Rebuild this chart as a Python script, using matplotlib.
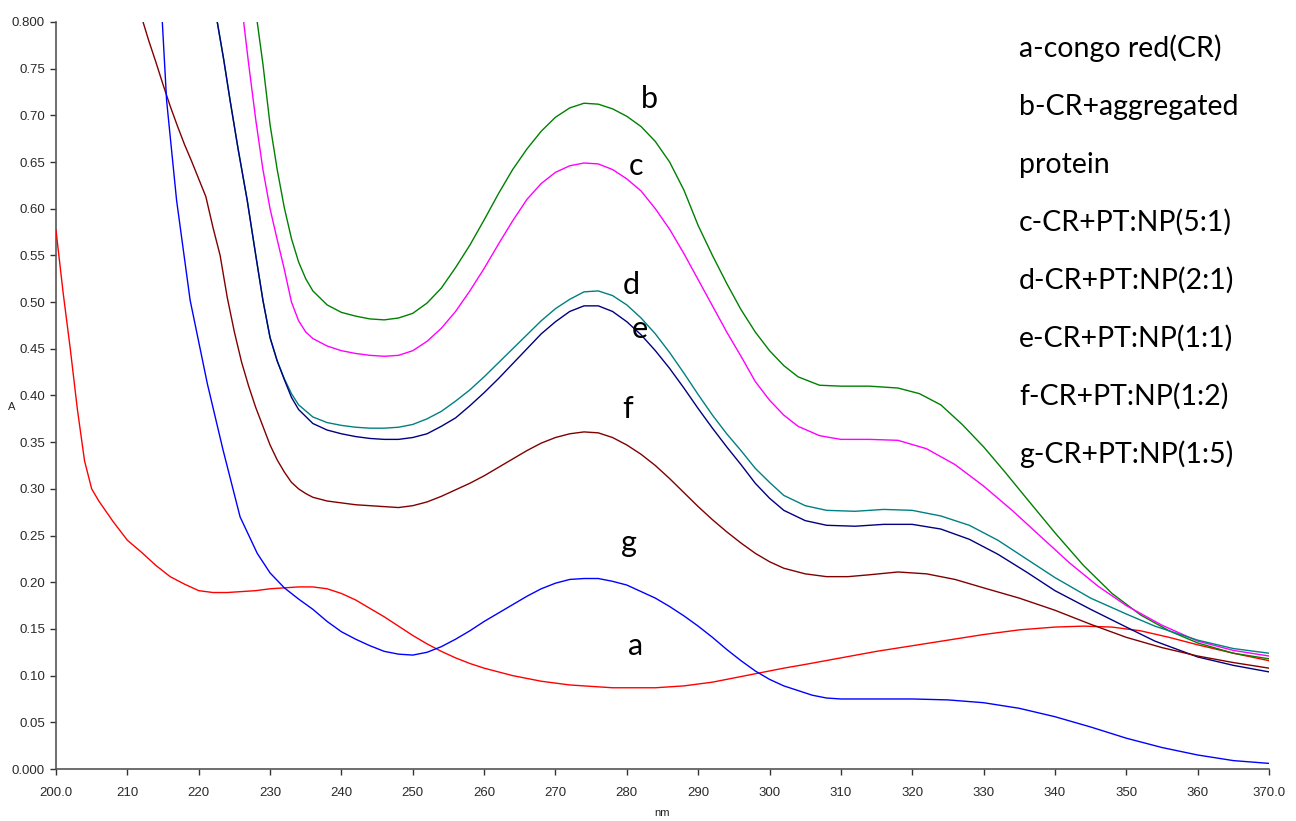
import matplotlib
matplotlib.use("Agg")
import matplotlib.pyplot as plt
from matplotlib import font_manager

# ---- spectra (wavelength in nm, absorbance A) ----
wl_a = [200, 201, 202, 203, 204, 205, 206, 208, 210, 212, 214, 216, 218, 220, 222, 224, 226, 228,
        230, 232, 234, 236, 238, 240, 242, 244, 246, 248, 250, 252, 254, 256, 258, 260, 262, 264,
        266, 268, 270, 272, 274, 276, 278, 280, 282, 284, 286, 288, 290, 292, 294, 296, 298, 300,
        302, 305, 310, 315, 320, 325, 330, 335, 340, 344, 348, 352, 356, 360, 365, 370]
abs_a = [0.577, 0.51, 0.45, 0.385, 0.33, 0.30, 0.287, 0.265, 0.245, 0.232, 0.218, 0.206, 0.198,
         0.191, 0.189, 0.189, 0.190, 0.191, 0.193, 0.194, 0.195, 0.195, 0.193, 0.188, 0.181, 0.172,
         0.163, 0.153, 0.143, 0.134, 0.126, 0.119, 0.113, 0.108, 0.104, 0.100, 0.097, 0.094, 0.092,
         0.090, 0.089, 0.088, 0.087, 0.087, 0.087, 0.087, 0.088, 0.089, 0.091, 0.093, 0.096, 0.099,
         0.102, 0.105, 0.108, 0.112, 0.119, 0.126, 0.132, 0.138, 0.144, 0.149, 0.152, 0.153, 0.152,
         0.148, 0.141, 0.133, 0.124, 0.116]

wl_b = [228.2, 229, 230, 231, 232, 233, 234, 235, 236, 238, 240, 242, 244, 246, 248, 250, 252, 254,
        256, 258, 260, 262, 264, 266, 268, 270, 272, 274, 276, 278, 280, 282, 284, 286, 288, 290,
        292, 294, 296, 298, 300, 302, 304, 307, 310, 314, 318, 321, 324, 327, 330, 333, 336, 340,
        344, 348, 352, 356, 360, 365, 370]
abs_b = [0.80, 0.755, 0.69, 0.642, 0.601, 0.568, 0.543, 0.525, 0.512, 0.497, 0.489, 0.485, 0.482,
         0.481, 0.483, 0.488, 0.499, 0.515, 0.537, 0.561, 0.588, 0.616, 0.642, 0.664, 0.683, 0.698,
         0.708, 0.713, 0.712, 0.707, 0.699, 0.688, 0.672, 0.650, 0.620, 0.582, 0.550, 0.520, 0.492,
         0.468, 0.448, 0.432, 0.420, 0.411, 0.410, 0.410, 0.408, 0.402, 0.390, 0.369, 0.345, 0.318,
         0.290, 0.253, 0.218, 0.188, 0.165, 0.148, 0.135, 0.124, 0.118]

wl_c = [226.3, 227, 228, 229, 230, 231, 232, 233, 234, 235, 236, 238, 240, 242, 244, 246, 248, 250,
        252, 254, 256, 258, 260, 262, 264, 266, 268, 270, 272, 274, 276, 278, 280, 282, 284, 286,
        288, 290, 292, 294, 296, 298, 300, 302, 304, 307, 310, 314, 318, 322, 326, 330, 334, 338,
        342, 346, 350, 355, 360, 365, 370]
abs_c = [0.80, 0.755, 0.695, 0.642, 0.60, 0.567, 0.535, 0.50, 0.48, 0.468, 0.461, 0.453, 0.448,
         0.445, 0.443, 0.442, 0.443, 0.448, 0.458, 0.472, 0.49, 0.512, 0.536, 0.562, 0.587, 0.61,
         0.627, 0.639, 0.646, 0.649, 0.648, 0.642, 0.632, 0.619, 0.60, 0.578, 0.552, 0.524, 0.496,
         0.468, 0.442, 0.415, 0.395, 0.379, 0.367, 0.357, 0.353, 0.353, 0.352, 0.343, 0.326, 0.303,
         0.277, 0.249, 0.221, 0.196, 0.175, 0.154, 0.137, 0.127, 0.121]

wl_d = [222.6, 223.5, 224.4, 225.5, 226.8, 228, 229, 230, 231, 232, 233, 234, 236, 238, 240, 242,
        244, 246, 248, 250, 252, 254, 256, 258, 260, 262, 264, 266, 268, 270, 272, 274, 276, 278,
        280, 282, 284, 286, 288, 290, 292, 294, 296, 298, 300, 302, 305, 308, 312, 316, 320, 324,
        328, 332, 336, 340, 345, 350, 354, 360, 365, 370]
abs_d = [0.80, 0.76, 0.716, 0.665, 0.609, 0.55, 0.502, 0.462, 0.437, 0.418, 0.402, 0.39, 0.377,
         0.371, 0.368, 0.366, 0.365, 0.365, 0.366, 0.369, 0.375, 0.383, 0.394, 0.406, 0.42, 0.435,
         0.45, 0.465, 0.48, 0.493, 0.503, 0.511, 0.512, 0.507, 0.497, 0.483, 0.466, 0.446, 0.424,
         0.401, 0.379, 0.359, 0.341, 0.322, 0.307, 0.293, 0.282, 0.277, 0.276, 0.278, 0.277, 0.271,
         0.261, 0.245, 0.225, 0.205, 0.183, 0.166, 0.153, 0.138, 0.129, 0.124]

wl_e = [222.6, 223.5, 224.4, 225.5, 226.8, 228, 229, 230, 231, 232, 233, 234, 236, 238, 240, 242,
        244, 246, 248, 250, 252, 254, 256, 258, 260, 262, 264, 266, 268, 270, 272, 274, 276, 278,
        280, 282, 284, 286, 288, 290, 292, 294, 296, 298, 300, 302, 305, 308, 312, 316, 320, 324,
        328, 332, 336, 340, 345, 350, 354, 360, 365, 370]
abs_e = [0.80, 0.76, 0.716, 0.665, 0.609, 0.55, 0.502, 0.462, 0.437, 0.417, 0.398, 0.385, 0.37,
         0.363, 0.359, 0.356, 0.354, 0.353, 0.353, 0.355, 0.359, 0.367, 0.376, 0.389, 0.403, 0.418,
         0.434, 0.45, 0.466, 0.479, 0.49, 0.496, 0.496, 0.49, 0.479, 0.465, 0.448, 0.429, 0.408,
         0.386, 0.365, 0.345, 0.326, 0.306, 0.29, 0.277, 0.266, 0.261, 0.26, 0.262, 0.262, 0.257,
         0.246, 0.23, 0.211, 0.191, 0.171, 0.152, 0.137, 0.12, 0.111, 0.104]

wl_f = [212.2, 213, 214, 215, 216, 217, 218, 219, 220, 221, 222, 223, 224, 225, 226, 227, 228, 229,
        230, 231, 232, 233, 234, 235, 236, 238, 240, 242, 244, 246, 248, 250, 252, 254, 256, 258,
        260, 262, 264, 266, 268, 270, 272, 274, 276, 278, 280, 282, 284, 286, 288, 290, 292, 294,
        296, 298, 300, 302, 305, 308, 311, 314, 318, 322, 326, 330, 335, 340, 345, 350, 355, 360,
        365, 370]
abs_f = [0.80, 0.78, 0.757, 0.733, 0.71, 0.689, 0.669, 0.651, 0.632, 0.613, 0.58, 0.55, 0.505,
         0.468, 0.436, 0.41, 0.387, 0.367, 0.347, 0.331, 0.318, 0.307, 0.30, 0.295, 0.291, 0.287,
         0.285, 0.283, 0.282, 0.281, 0.28, 0.282, 0.286, 0.292, 0.299, 0.306, 0.314, 0.323, 0.332,
         0.341, 0.349, 0.355, 0.359, 0.361, 0.36, 0.355, 0.347, 0.337, 0.325, 0.311, 0.296, 0.281,
         0.267, 0.254, 0.242, 0.231, 0.222, 0.215, 0.209, 0.206, 0.206, 0.208, 0.211, 0.209, 0.203,
         0.194, 0.183, 0.17, 0.155, 0.141, 0.13, 0.121, 0.114, 0.108]

wl_g = [214.9, 215.5, 216.9, 218.8, 221.2, 223.4, 225.8, 228.2, 230, 232, 234, 236, 238, 240, 242,
        244, 246, 248, 250, 252, 254, 256, 258, 260, 262, 264, 266, 268, 270, 272, 274, 276, 278,
        280, 282, 284, 286, 288, 290, 292, 294, 296, 298, 300, 302, 304, 306, 308, 310, 315, 320,
        325, 330, 335, 340, 345, 350, 355, 360, 365, 370]
abs_g = [0.80, 0.716, 0.609, 0.502, 0.413, 0.342, 0.27, 0.231, 0.21, 0.194, 0.182, 0.171, 0.158,
         0.147, 0.139, 0.132, 0.126, 0.123, 0.122, 0.125, 0.131, 0.139, 0.148, 0.158, 0.167, 0.176,
         0.185, 0.193, 0.199, 0.203, 0.204, 0.204, 0.201, 0.197, 0.19, 0.183, 0.174, 0.164, 0.153,
         0.141, 0.128, 0.116, 0.105, 0.096, 0.089, 0.084, 0.079, 0.076, 0.075, 0.075, 0.075, 0.074,
         0.071, 0.065, 0.056, 0.045, 0.033, 0.023, 0.015, 0.009, 0.006]

series_keys = ["a", "b", "c", "d", "e", "f", "g"]
series_colors = ["#ff0000", "#008000", "#ff00ff", "#008080", "#000080", "#800000", "#0000ff"]
legend_lines = ["a-congo red(CR)", "b-CR+aggregated", "protein", "c-CR+PT:NP(5:1)",
                "d-CR+PT:NP(2:1)", "e-CR+PT:NP(1:1)", "f-CR+PT:NP(1:2)", "g-CR+PT:NP(1:5)"]

x_ticks = [200, 210, 220, 230, 240, 250, 260, 270, 280, 290, 300, 310, 320, 330, 340, 350, 360, 370]
x_ticklabels = ["200.0"] + [str(v) for v in x_ticks[1:-1]] + ["370.0"]
y_ticks = [0.0, 0.05, 0.10, 0.15, 0.20, 0.25, 0.30, 0.35, 0.40, 0.45, 0.50, 0.55, 0.60, 0.65,
           0.70, 0.75, 0.80]
y_ticklabels = ["0.000", "0.05", "0.10", "0.15", "0.20", "0.25", "0.30", "0.35", "0.40", "0.45",
                "0.50", "0.55", "0.60", "0.65", "0.70", "0.75", "0.800"]

# curve labels placed next to the bands (data coordinates)
curve_label_pos = {"b": (281.9, 0.708), "c": (280.3, 0.636), "d": (279.4, 0.509),
                   "e": (280.7, 0.462), "f": (279.4, 0.376), "g": (279.2, 0.232), "a": (280.2, 0.122)}

available = {f.name for f in font_manager.fontManager.ttflist}
tick_font = "Liberation Sans Narrow" if "Liberation Sans Narrow" in available else "Liberation Sans"
text_font = "Lato"

W, H = 1296, 821
fig = plt.figure(figsize=(W / 100, H / 100), dpi=100)
ax = fig.add_axes([56 / W, 1 - 769 / H, (1269 - 56) / W, (769 - 22) / H])

wls = [wl_a, wl_b, wl_c, wl_d, wl_e, wl_f, wl_g]
absv = [abs_a, abs_b, abs_c, abs_d, abs_e, abs_f, abs_g]
for key, w, a, col in zip(series_keys, wls, absv, series_colors):
    ax.plot(w, a, color=col, lw=1.0, solid_joinstyle="round", zorder=3)

ax.set_xlim(200, 370)
ax.set_ylim(0, 0.8)
ax.set_xticks(x_ticks)
ax.set_xticklabels(x_ticklabels)
ax.set_yticks(y_ticks)
ax.set_yticklabels(y_ticklabels)
for sp in ["top", "right"]:
    ax.spines[sp].set_visible(False)
for sp in ["left", "bottom"]:
    ax.spines[sp].set_color("#555555")
    ax.spines[sp].set_linewidth(1.2)
ax.tick_params(axis="both", direction="out", length=4, width=1.0, color="#333333",
               labelsize=9.5, labelcolor="#2a2a2a", pad=4)
for lab in ax.get_xticklabels() + ax.get_yticklabels():
    lab.set_family(tick_font)
ax.tick_params(axis="x", pad=9)

fig.text(12 / W, 1 - 407 / H, "A", family=tick_font, fontsize=8, color="#222222",
         ha="center", va="center")
fig.text(662 / W, 1 - 813 / H, "nm", family=tick_font, fontsize=8, color="#222222",
         ha="center", va="center")

for key, (xv, yv) in curve_label_pos.items():
    ax.text(xv, yv, key, family=text_font, fontsize=22, color="black",
            ha="left", va="baseline", zorder=4)

y0 = 57
for i, line in enumerate(legend_lines):
    fig.text(1019 / W, 1 - (y0 + 58 * i) / H, line, family=text_font, fontsize=20.5,
             color="black", ha="left", va="baseline")

fig.savefig("out.png", dpi=100, facecolor="white")
